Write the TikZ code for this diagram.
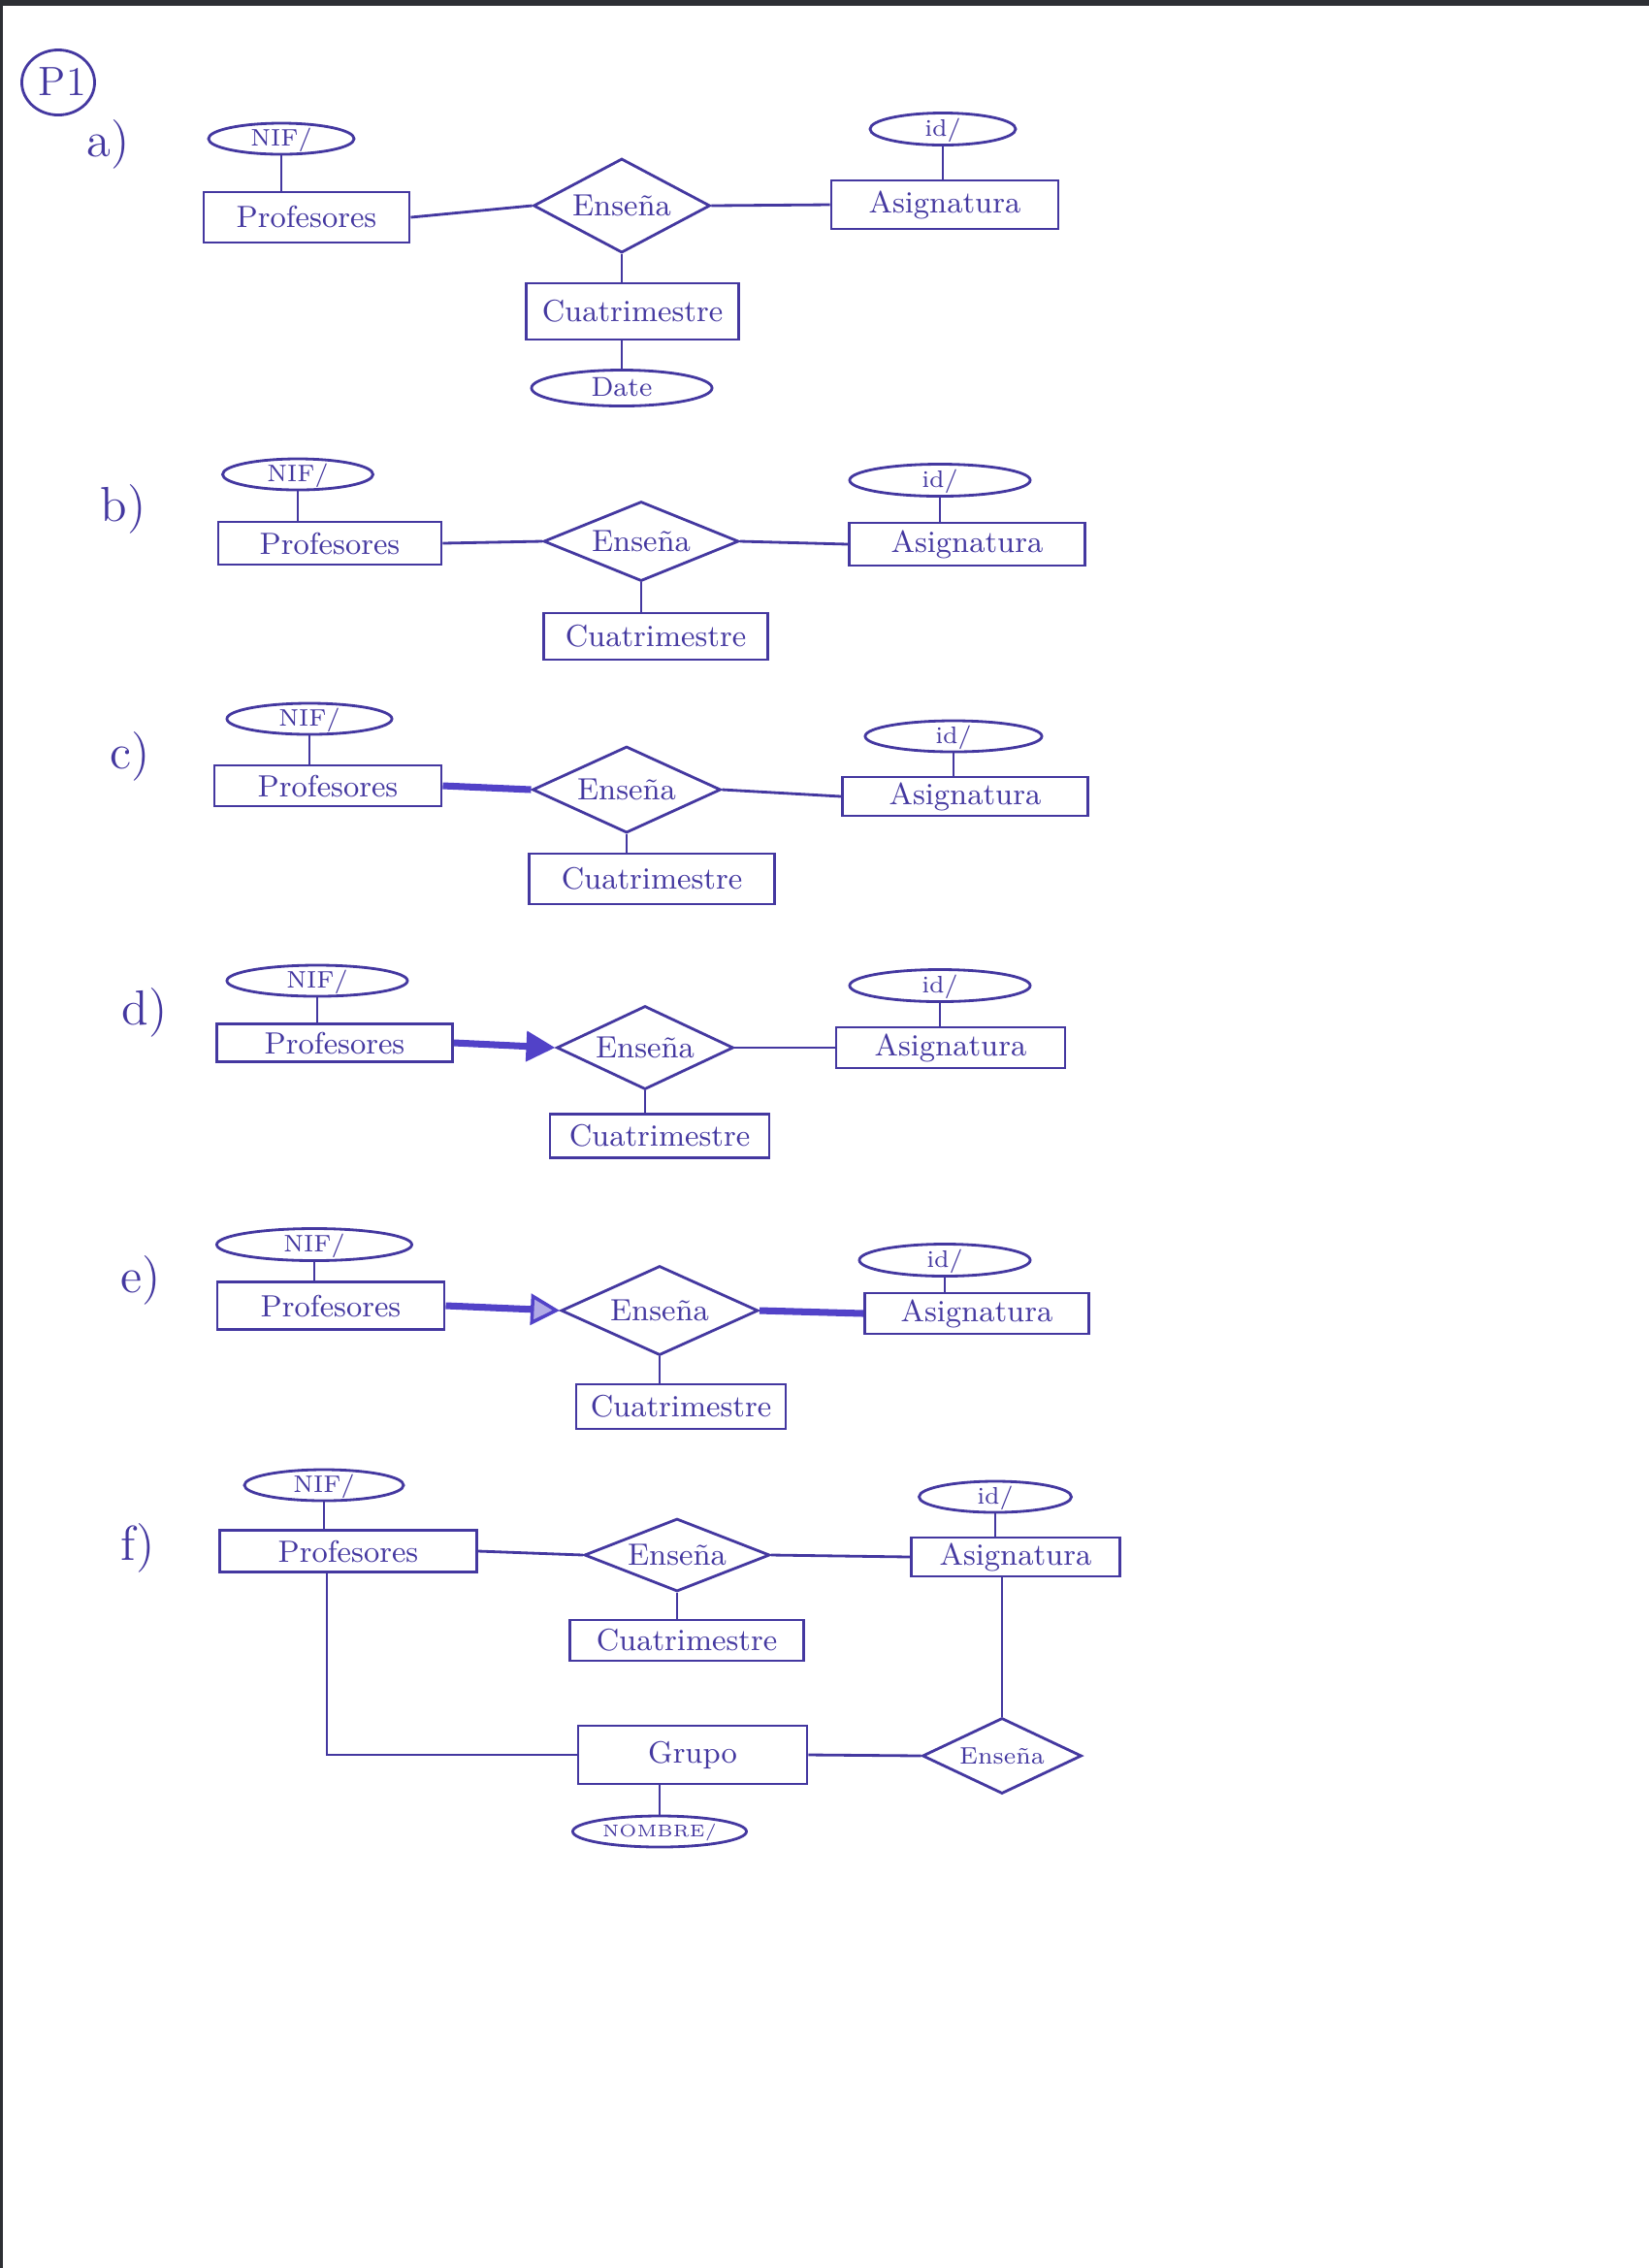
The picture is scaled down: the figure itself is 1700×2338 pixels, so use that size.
\documentclass[tikz,border=0pt]{standalone}
\usepackage{tikz}
\usetikzlibrary{arrows.meta,positioning,calc,shapes.geometric}
\definecolor{ink}{RGB}{68,56,160}
\definecolor{inkthick}{RGB}{82,66,200}
\definecolor{scanedge}{RGB}{45,47,52}
\tikzset{
  entity/.style={rectangle,draw=ink,text=ink,line width=0.8pt,inner sep=0pt,minimum height=4.4mm,font=\small},
  attr/.style={ellipse,draw=ink,text=ink,line width=0.8pt,inner sep=0pt,text height=1.5mm,text depth=0.1mm,minimum height=3.2mm,font=\scriptsize},
  rel/.style={diamond,draw=ink,text=ink,line width=0.8pt,inner sep=0pt,aspect=2.2,font=\small},
  link/.style={draw=ink,line width=0.8pt},
  heavylink/.style={draw=inkthick,line width=2pt},
  partlabel/.style={text=ink,font=\Large}
}

\begin{document}
\begin{tikzpicture}[x=0.01cm,y=-0.01cm]
  \useasboundingbox (0,0) rectangle (1700,2338);
  \fill[scanedge] (0,0) rectangle (1700,6);
  \fill[scanedge] (0,0) rectangle (3,2338);

  \node[ellipse,draw=ink,line width=0.8pt,text=ink,inner sep=0pt,text width=4mm,align=center,text height=2.6mm,text depth=0pt,minimum width=7.5mm,minimum height=6.7mm,font=\large] (pnum) at (60,85) {P1};

  % a)
  \node[partlabel] (lblA) at (112,149) {a)};
  \node[attr, minimum width=15mm] (nifA) at (290,143) {NIF/};
  \node[entity, minimum width=21.2mm, minimum height=5.2mm] (profA) at (316,224) {Profesores};
  \node[rel, minimum width=18.2mm, minimum height=9.7mm] (ensA) at (641,212) {Enseña};
  \node[entity, minimum width=23.4mm, minimum height=5mm] (asigA) at (974,211) {Asignatura};
  \node[attr, minimum width=15mm, minimum height=3.3mm] (idA) at (972,133) {id/};
  \node[entity, minimum width=21.9mm, minimum height=5.8mm] (cuaA) at (652,321) {Cuatrimestre};
  \node[attr, minimum width=18.6mm, minimum height=3.7mm, font=\footnotesize, text height=1.8mm] (dateA) at (641,400) {Date};
  \draw[link] (nifA.south) -- (nifA.south |- profA.north);
  \draw[link] (idA.south) -- (idA.south |- asigA.north);
  \draw[link] (profA.east) -- (ensA.west);
  \draw[link] (ensA.east) -- (asigA.west);
  \draw[link] (ensA.south) -- (ensA.south |- cuaA.north);
  \draw[link] (dateA.north |- cuaA.south) -- (dateA.north);

  % b)
  \node[partlabel] (lblB) at (127,525) {b)};
  \node[attr, minimum width=15.5mm] (nifB) at (307,489) {NIF/};
  \node[entity, minimum width=23mm] (profB) at (340,560) {Profesores};
  \node[rel, minimum width=20.1mm, minimum height=8.2mm] (ensB) at (661,558) {Enseña};
  \node[entity, minimum width=24.3mm] (asigB) at (997,561) {Asignatura};
  \node[attr, minimum width=18.6mm, minimum height=3.3mm] (idB) at (969,495) {id/};
  \node[entity, minimum width=23.1mm, minimum height=4.8mm] (cuaB) at (676,656) {Cuatrimestre};
  \draw[link] (nifB.south) -- (nifB.south |- profB.north);
  \draw[link] (idB.south) -- (idB.south |- asigB.north);
  \draw[link] (profB.east) -- (ensB.west);
  \draw[link] (ensB.east) -- (asigB.west);
  \draw[link] (ensB.south) -- (ensB.south |- cuaB.north);

  % c)
  \node[partlabel] (lblC) at (134,780) {c)};
  \node[attr, minimum width=17mm] (nifC) at (319,741) {NIF/};
  \node[entity, minimum width=23.4mm, minimum height=4.2mm] (profC) at (338,810) {Profesores};
  \node[rel, minimum width=19.4mm, minimum height=8.9mm] (ensC) at (646,814) {Enseña};
  \node[entity, minimum width=25.3mm, minimum height=4mm] (asigC) at (995,821) {Asignatura};
  \node[attr, minimum width=18.2mm] (idC) at (983,759) {id/};
  \node[entity, minimum width=25.3mm, minimum height=5.2mm] (cuaC) at (672,906) {Cuatrimestre};
  \draw[link] (nifC.south) -- (nifC.south |- profC.north);
  \draw[link] (idC.south) -- (idC.south |- asigC.north);
  \draw[heavylink] (profC.east) -- (ensC.west);
  \draw[link] (ensC.east) -- (asigC.west);
  \draw[link] (ensC.south) -- (ensC.south |- cuaC.north);

  % d)
  \node[partlabel] (lblD) at (149,1044) {d)};
  \node[attr, minimum width=18.6mm] (nifD) at (327,1011) {NIF/};
  \node[entity, minimum width=24.3mm, minimum height=3.9mm] (profD) at (345,1075) {Profesores};
  \node[rel, minimum width=18.2mm, minimum height=8.6mm] (ensD) at (665,1080) {Enseña};
  \node[entity, minimum width=23.6mm, minimum height=4.2mm] (asigD) at (980,1080) {Asignatura};
  \node[attr, minimum width=18.6mm, minimum height=3.3mm] (idD) at (969,1016) {id/};
  \node[entity, minimum width=22.6mm, minimum height=4.5mm] (cuaD) at (680,1171) {Cuatrimestre};
  \draw[link] (nifD.south) -- (nifD.south |- profD.north);
  \draw[link] (idD.south) -- (idD.south |- asigD.north);
  \draw[heavylink, -{Triangle[length=3mm,width=3mm]}] (profD.east) -- (ensD.west);
  \draw[link] (ensD.east) -- (asigD.west);
  \draw[link] (ensD.south) -- (ensD.south |- cuaD.north);

  % e)
  \node[partlabel] (lblE) at (145,1320) {e)};
  \node[attr, minimum width=20.1mm, minimum height=3.3mm] (nifE) at (324,1283) {NIF/};
  \node[entity, minimum width=23.4mm, minimum height=4.9mm] (profE) at (341,1346) {Profesores};
  \node[rel, minimum width=20.3mm, minimum height=9.2mm] (ensE) at (680,1351) {Enseña};
  \node[entity, minimum width=23.1mm, minimum height=4.2mm] (asigE) at (1007,1354) {Asignatura};
  \node[attr, minimum width=17.6mm, minimum height=3.3mm] (idE) at (974,1299) {id/};
  \node[entity, minimum width=21.6mm, minimum height=4.6mm] (cuaE) at (702,1450) {Cuatrimestre};
  \draw[link] (nifE.south) -- (nifE.south |- profE.north);
  \draw[link] (idE.south) -- (idE.south |- asigE.north);
  \draw[heavylink, -{Triangle[open,fill=inkthick!45,line width=1pt,length=3mm,width=3.2mm]}] (profE.east) -- (ensE.west);
  \draw[heavylink] (ensE.east) -- (asigE.west);
  \draw[link] (ensE.south) -- (ensE.south |- cuaE.north);

  % f)
  \node[partlabel] (lblF) at (142,1596) {f)};
  \node[attr, minimum width=16.4mm] (nifF) at (334,1531) {NIF/};
  \node[entity, minimum width=26.5mm, minimum height=4.3mm] (profF) at (359,1599) {Profesores};
  \node[rel, minimum width=19.1mm, minimum height=7.5mm] (ensF) at (698,1603) {Enseña};
  \node[entity, minimum width=21.5mm, minimum height=4mm] (asigF) at (1047,1605) {Asignatura};
  \node[attr, minimum width=15.7mm] (idF) at (1026,1543) {id/};
  \node[entity, minimum width=24.1mm, minimum height=4.2mm] (cuaF) at (708,1691) {Cuatrimestre};
  \node[entity, minimum width=23.6mm, minimum height=6mm] (grupoF) at (714,1809) {Grupo};
  \node[attr, minimum width=17.9mm, font=\tiny, text height=1.2mm] (nomF) at (680,1888) {NOMBRE/};
  \node[rel, minimum width=16.4mm, minimum height=7.8mm, font=\scriptsize] (ens2F) at (1033,1810) {Enseña};
  \draw[link] (nifF.south) -- (nifF.south |- profF.north);
  \draw[link] (idF.south) -- (idF.south |- asigF.north);
  \draw[link] (profF.east) -- (ensF.west);
  \draw[link] (ensF.east) -- (asigF.west);
  \draw[link] (ensF.south) -- (ensF.south |- cuaF.north);
  \draw[link] ([xshift=-2.2mm]profF.south) |- (grupoF.west);
  \draw[link] (grupoF.east) -- (ens2F.west);
  \draw[link] (ens2F.north |- asigF.south) -- (ens2F.north);
  \draw[link] (nomF.north |- grupoF.south) -- (nomF.north);
\end{tikzpicture}
\end{document}
